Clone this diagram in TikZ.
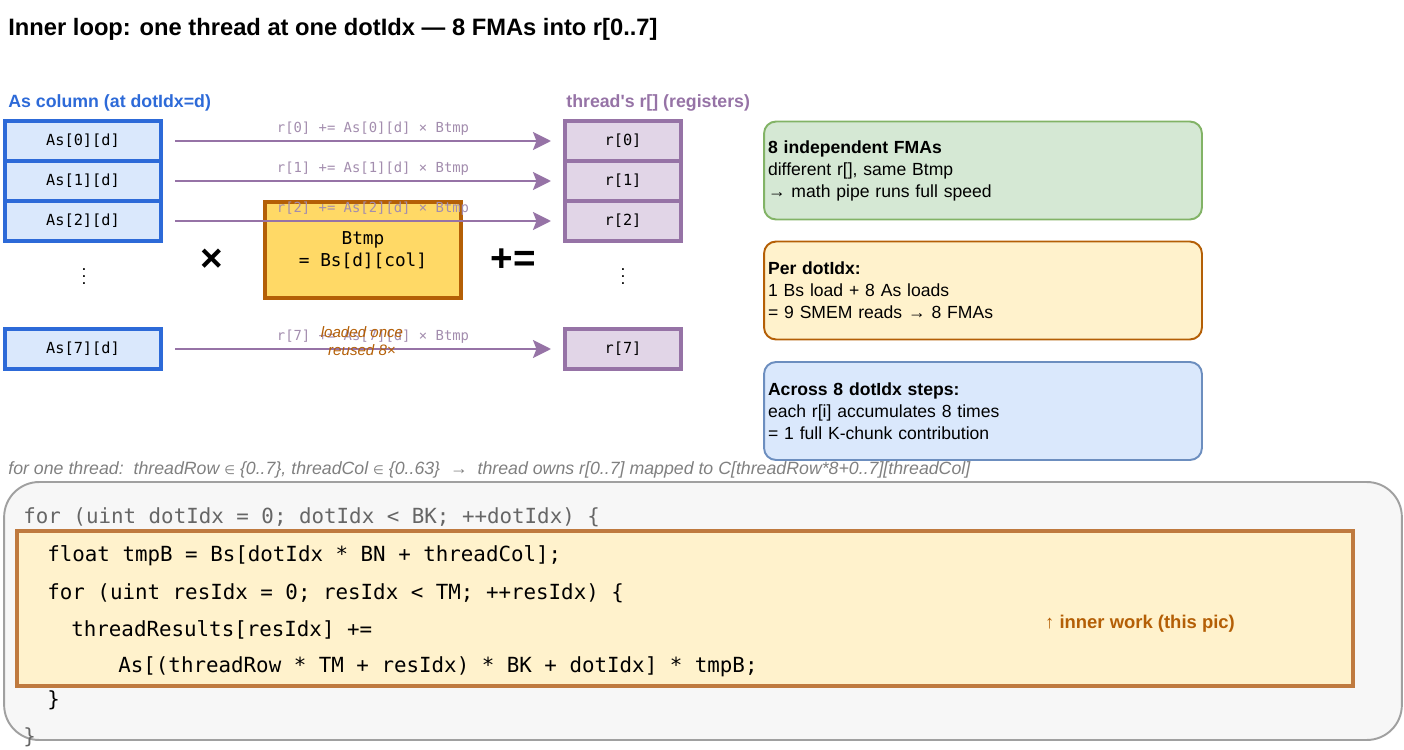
\documentclass[tikz,border=0pt]{standalone}
\usepackage{fontspec}
\setmainfont{Liberation Sans}
\setmonofont{DejaVu Sans Mono}
\newfontfamily\symfont{DejaVu Sans}
\usetikzlibrary{arrows.meta}
\definecolor{asblue}{HTML}{2D6AD8}
\definecolor{asfill}{HTML}{DAE8FC}
\definecolor{regline}{HTML}{9673A6}
\definecolor{regfill}{HTML}{E1D5E7}
\definecolor{lablilac}{HTML}{A38DAE}
\definecolor{btmpfill}{HTML}{FFD966}
\definecolor{rust}{HTML}{B45F06}
\definecolor{greenfill}{HTML}{D5E8D4}
\definecolor{greenline}{HTML}{82B366}
\definecolor{creamfill}{HTML}{FFF2CC}
\definecolor{blueline}{HTML}{6C8EBF}
\definecolor{codefill}{HTML}{F7F7F7}
\definecolor{codeline}{HTML}{A0A0A0}
\definecolor{innerline}{HTML}{BF7A3F}
\tikzset{
  asbox/.style    = {draw=asblue,fill=asfill,line width=2.3pt,minimum width=3.12cm,minimum height=0.8cm,
                     inner sep=0pt,font=\ttfamily\fontsize{8.7}{10}\selectfont},
  regbox/.style   = {draw=regline,fill=regfill,line width=2.3pt,minimum width=2.32cm,minimum height=0.8cm,
                     inner sep=0pt,font=\ttfamily\fontsize{8.7}{10}\selectfont},
  fmaarr/.style   = {-{Stealth[length=3.6mm,width=3.6mm,inset=0.7mm]},draw=regline,line width=1.2pt,
                     shorten <=0.24cm,shorten >=0.24cm},
  fmalabel/.style = {font=\ttfamily\fontsize{7.9}{9}\selectfont,text=lablilac,inner sep=0pt},
  notebox/.style  = {rounded corners=0.24cm,line width=1.1pt,minimum width=8.76cm,minimum height=1.96cm,
                     text width=8.6cm,align=left,inner sep=0.08cm,font=\fontsize{10}{12.5}\selectfont},
  codetext/.style = {anchor=west,inner sep=0pt,font=\ttfamily\fontsize{11.85}{13}\selectfont}
}

\begin{document}
\begin{tikzpicture}[x=0.02cm,y=-0.02cm]
  \useasboundingbox (0,0) rectangle (1404,750);
  \node[anchor=west,inner sep=0pt,font=\bfseries\fontsize{13.5}{15}\selectfont] (title) at (8,29)
    {Inner loop: one thread at one dotIdx — 8 FMAs into r[0..7]};
  \node[anchor=west,inner sep=0pt,font=\bfseries\fontsize{10.1}{12}\selectfont,text=asblue] (ashead) at (8,103)
    {As column (at dotIdx=d)};
  \node[anchor=west,inner sep=0pt,font=\bfseries\fontsize{10.1}{12}\selectfont,text=regline] (reghead) at (566,103)
    {thread\textquotesingle s r[] (registers)};

  % Btmp sits under the arrows
  \node[draw=rust,fill=btmpfill,line width=2.2pt,minimum width=3.92cm,minimum height=1.92cm,
        align=center,font=\ttfamily\fontsize{10.1}{12.5}\selectfont] (btmp) at (363,250)
    {Btmp\\= Bs[d][col]};
  \node[font=\bfseries\fontsize{22}{24}\selectfont] (times) at (212,260) {×};
  \node[font=\bfseries\fontsize{22}{24}\selectfont] (pluseq) at (513,260) {+=};

  \foreach \i/\y in {0/141,1/181,2/221,7/349} {
    \node[asbox] (a\i) at (83,\y) {As[\i][d]};
    \node[regbox] (r\i) at (623,\y) {r[\i]};
    \draw[fmaarr] (a\i) -- (r\i)
      node[fmalabel,pos=0.525,yshift=0.24cm] (lab\i) {r[\i] += As[\i][d] × Btmp};
  }
  \node[inner sep=0pt] (adots) at (84,271) {$\vdots$};
  \node[inner sep=0pt] (rdots) at (623,271) {$\vdots$};
  \node[align=center,text=rust,font=\itshape\fontsize{8.6}{10.6}\selectfont] (reuse) at (362,341)
    {loaded once\\reused 8×};

  % notes on the right
  \node[notebox,draw=greenline,fill=greenfill] (fmanote) at (983,170.5)
    {\textbf{8 independent FMAs}\\different r[], same Btmp\\→ math pipe runs full speed};
  \node[notebox,draw=rust,fill=creamfill] (pernote) at (983,290.5)
    {\textbf{Per dotIdx:}\\1 Bs load + 8 As loads\\= 9 SMEM reads → 8 FMAs};
  \node[notebox,draw=blueline,fill=asfill] (acrossnote) at (983,411)
    {\textbf{Across 8 dotIdx steps:}\\each r[i] accumulates 8 times\\= 1 full K-chunk contribution};

  \node[anchor=west,inner sep=0pt,text=gray,font=\itshape\fontsize{10.1}{11}\selectfont] (caption) at (8,470)
    {for one thread:\ \ threadRow {\symfont\scriptsize ∈} \{0..7\}, threadCol {\symfont\scriptsize ∈} \{0..63\}\ \ →\ \ thread owns r[0..7] mapped to C[threadRow*8+0..7][threadCol]};

  % code listing
  \node[draw=codeline,fill=codefill,line width=1.1pt,rounded corners=0.7cm,
        minimum width=27.96cm,minimum height=5.16cm] (code) at (703,611) {};
  \node[draw=innerline,fill=creamfill,line width=2.3pt,minimum width=26.72cm,minimum height=3.1cm] (inner) at (685,608.5) {};
  \node[codetext,text=black!60] (c1) at (23,517) {for (uint dotIdx = 0; dotIdx < BK; ++dotIdx) \{};
  \node[codetext] (c2) at (47,556) {float tmpB = Bs[dotIdx * BN + threadCol];};
  \node[codetext] (c3) at (47,593) {for (uint resIdx = 0; resIdx < TM; ++resIdx) \{};
  \node[codetext] (c4) at (71,630) {threadResults[resIdx] +=};
  \node[codetext] (c5) at (118,667) {As[(threadRow * TM + resIdx) * BK + dotIdx] * tmpB;};
  \node[codetext] (c6) at (47,700) {\}};
  \node[codetext,text=black!60] (c7) at (23,737) {\}};
  \node[text=rust,font=\bfseries\fontsize{10.5}{12}\selectfont] (innertag) at (1140,624)
    {↑ inner work (this pic)};
\end{tikzpicture}
\end{document}
